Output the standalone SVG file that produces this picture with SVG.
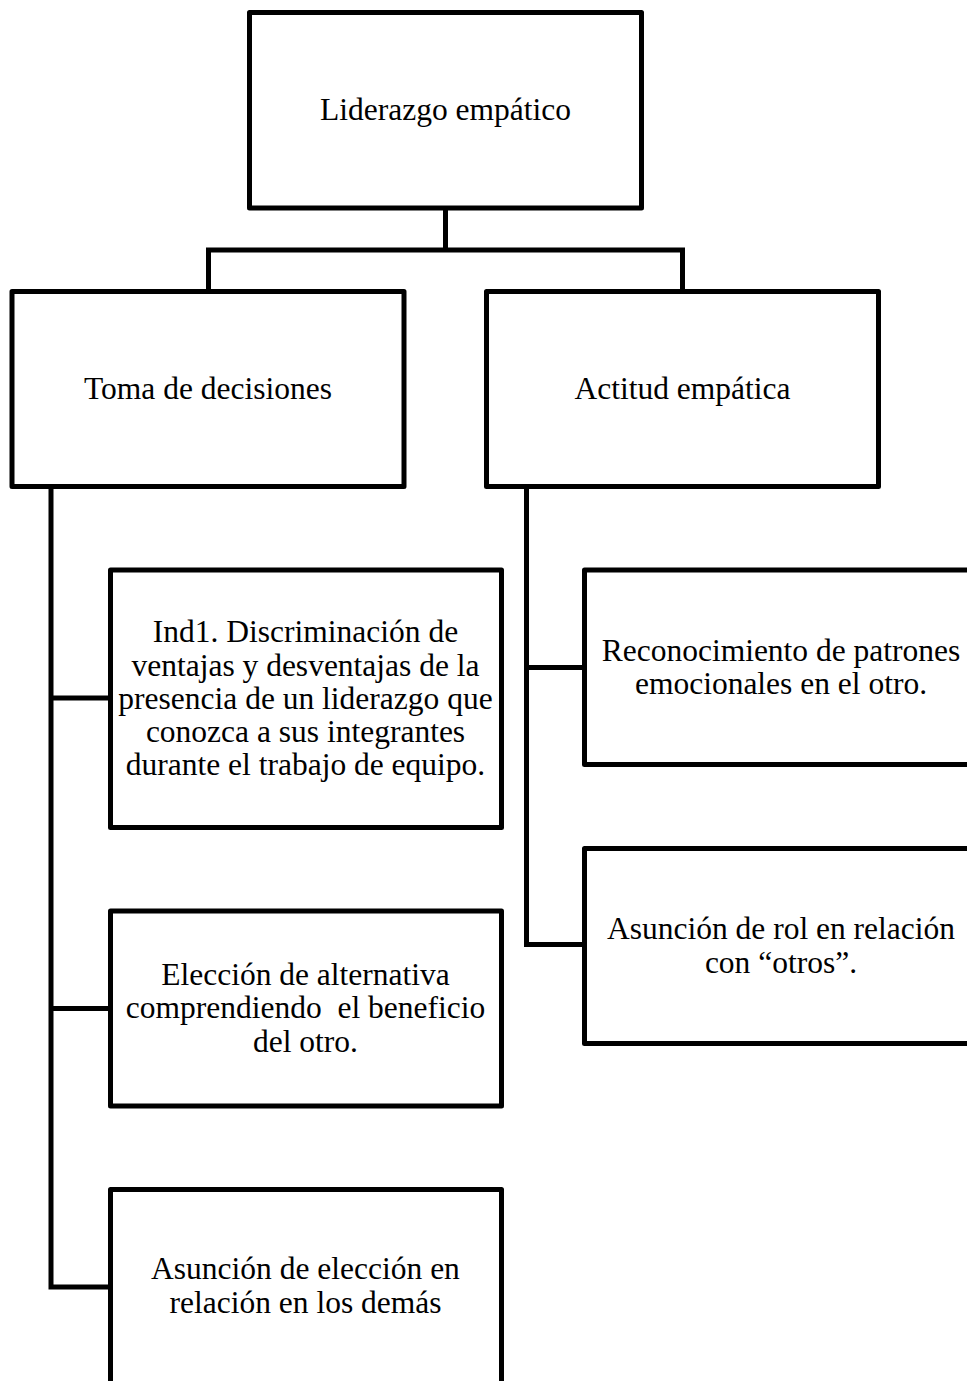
<svg xmlns="http://www.w3.org/2000/svg" width="967" height="1381" viewBox="0 0 967 1381">
<style>
.box{fill:#fff;stroke:#000;stroke-width:5;stroke-linejoin:round}
.con{fill:none;stroke:#000;stroke-width:5;stroke-linejoin:miter}
text{font-family:"Liberation Serif","Times New Roman",serif;font-size:31.5px;fill:#000;text-anchor:middle}
</style>
<rect width="967" height="1381" fill="#fff"/>
<g id="connectors">
<path class="con" d="M445.5 208 V250 M208.5 291.5 V250 H682.5 V291.5"/>
<path class="con" d="M51 486.5 V1287 H110 M51 698 H110 M51 1008.5 H110"/>
<path class="con" d="M526.5 486.5 V944.5 H584.5 M526.5 667.5 H584.5"/>
</g>
<g id="n-liderazgo">
<rect class="box" x="249.5" y="12.5" width="392" height="195.5"/>
<text x="445.5" y="120">Liderazgo empático</text>
</g>
<g id="n-toma">
<rect class="box" x="12" y="291.5" width="392" height="195"/>
<text x="208" y="399">Toma de decisiones</text>
</g>
<g id="n-actitud">
<rect class="box" x="486.5" y="291.5" width="392" height="195"/>
<text x="682.5" y="399">Actitud empática</text>
</g>
<g id="n-ind1">
<rect class="box" x="110.5" y="570" width="391" height="257.5"/>
<text x="305.5" y="642.3">Ind1. Discriminación de</text>
<text x="305.5" y="675.5">ventajas y desventajas de la</text>
<text x="305.5" y="708.7">presencia de un liderazgo que</text>
<text x="305.5" y="741.9">conozca a sus integrantes</text>
<text x="305.5" y="775">durante el trabajo de equipo.</text>
</g>
<g id="n-eleccion">
<rect class="box" x="110.5" y="911" width="391" height="195"/>
<text x="305.5" y="985">Elección de alternativa</text>
<text x="305.5" y="1018.2" xml:space="preserve">comprendiendo  el beneficio</text>
<text x="305.5" y="1051.5">del otro.</text>
</g>
<g id="n-asuncion-eleccion">
<rect class="box" x="110.5" y="1189.5" width="391" height="230"/>
<text x="305.5" y="1279.3">Asunción de elección en</text>
<text x="305.5" y="1312.5">relación en los demás</text>
</g>
<g id="n-reconocimiento">
<rect class="box" x="584.5" y="570" width="393" height="194.5"/>
<text x="781" y="660.7">Reconocimiento de patrones</text>
<text x="781" y="694">emocionales en el otro.</text>
</g>
<g id="n-asuncion-rol">
<rect class="box" x="584.5" y="848.5" width="393" height="195"/>
<text x="781" y="939.3">Asunción de rol en relación</text>
<text x="781" y="972.5">con “otros”.</text>
</g>
</svg>
